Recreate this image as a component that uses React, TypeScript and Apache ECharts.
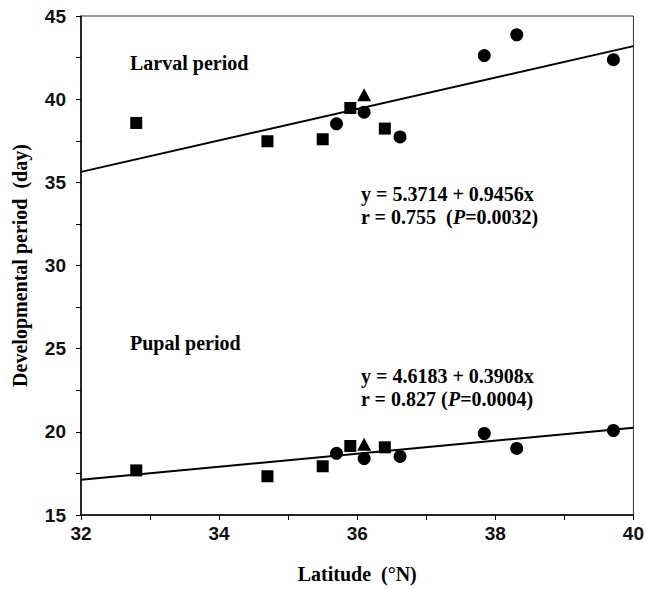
import React, { useEffect, useRef } from "react";
import * as echarts from "echarts";

// Latitudes (°N) of the populations, grouped by marker shape
const squareLat = [32.8, 34.7, 35.5, 35.9, 36.4];
const circleLat = [35.7, 36.1, 36.62, 37.84, 38.31, 39.71];
const triangleLat = [36.1];

// Larval period (day)
const larvalSquareVals = [38.57, 37.47, 37.59, 39.47, 38.23];
const larvalCircleVals = [38.52, 39.22, 37.73, 42.62, 43.87, 42.37];
const larvalTriangleVals = [40.27];

// Pupal period (day)
const pupalSquareVals = [17.68, 17.33, 17.93, 19.15, 19.07];
const pupalCircleVals = [18.71, 18.39, 18.52, 19.9, 19.0, 20.08];
const pupalTriangleVals = [19.26];

// Regression line end points
const fitLat = [32, 40];
const larvalFitVals = [35.63, 43.19];
const pupalFitVals = [17.12, 20.25];

const xTicks = [32, 34, 36, 38, 40];
const yTicks = [15, 20, 25, 30, 35, 40, 45];

const zip = (xs: number[], ys: number[]) => xs.map((x, i) => [x, ys[i]]);

const SERIF = "'Liberation Serif', 'Times New Roman', serif";
const SANS = "'Liberation Sans', Arial, sans-serif";
const INK = "#000";
const FS = 20;

export default function App() {
  const ref = useRef<HTMLDivElement>(null);
  useEffect(() => {
    if (!ref.current) return;
    const chart = echarts.init(ref.current, undefined, { renderer: "svg" });
    const rich = {
      a: { fontFamily: SERIF, fontWeight: "bold", fontSize: FS, color: INK },
      i: { fontFamily: SERIF, fontWeight: "bold", fontStyle: "italic", fontSize: FS, color: INK },
    };
    const txt = (x: number, y: number, text: string) => ({
      type: "text",
      left: x,
      top: y,
      style: {
        text,
        fill: INK,
        fontFamily: SERIF,
        fontWeight: "bold",
        fontSize: FS,
        rich,
      },
    });
    const axisCommon = {
      axisLine: { show: true, lineStyle: { color: INK, width: 1.5 } },
      axisTick: { show: true, inside: false, length: 5, lineStyle: { color: INK, width: 1 } },
      minorTick: { show: true, splitNumber: 2, length: 5, lineStyle: { color: INK, width: 1 } },
      splitLine: { show: false },
      axisLabel: { color: "#111", fontFamily: SANS, fontWeight: "bold", fontSize: 19 },
      nameTextStyle: { color: INK, fontFamily: SERIF, fontWeight: "bold", fontSize: FS },
    };
    const itemStyle = { color: INK, opacity: 1 };
    chart.setOption({
      animation: false,
      backgroundColor: "#fff",
      grid: {
        left: 81,
        right: 9,
        top: 16,
        bottom: 68,
        show: true,
        borderColor: "#333",
        borderWidth: 1,
        containLabel: false,
      },
      xAxis: {
        type: "value",
        min: xTicks[0],
        max: xTicks[xTicks.length - 1],
        interval: 2,
        name: "Latitude  (°N)",
        nameLocation: "middle",
        nameGap: 49,
        ...axisCommon,
        axisLabel: { ...axisCommon.axisLabel, margin: 9 },
      },
      yAxis: {
        type: "value",
        min: yTicks[0],
        max: yTicks[yTicks.length - 1],
        interval: 5,
        name: "Developmental period  (day)",
        nameLocation: "middle",
        nameGap: 51,
        ...axisCommon,
        axisLabel: { ...axisCommon.axisLabel, margin: 15 },
      },
      series: [
        {
          type: "line",
          data: zip(fitLat, larvalFitVals),
          symbol: "none",
          lineStyle: { color: INK, width: 2 },
        },
        {
          type: "line",
          data: zip(fitLat, pupalFitVals),
          symbol: "none",
          lineStyle: { color: INK, width: 2 },
        },
        {
          type: "scatter",
          data: zip(squareLat, larvalSquareVals).concat(zip(squareLat, pupalSquareVals)),
          symbol: "rect",
          symbolSize: 12,
          itemStyle,
        },
        {
          type: "scatter",
          data: zip(circleLat, larvalCircleVals).concat(zip(circleLat, pupalCircleVals)),
          symbol: "circle",
          symbolSize: 13,
          itemStyle,
        },
        {
          type: "scatter",
          data: zip(triangleLat, larvalTriangleVals).concat(zip(triangleLat, pupalTriangleVals)),
          symbol: "triangle",
          symbolSize: [14, 13],
          itemStyle,
        },
      ],
      graphic: [
        txt(130, 53, "Larval period"),
        txt(130, 333, "Pupal period"),
        txt(361, 184, "y = 5.3714 + 0.9456x"),
        txt(361, 207, "{a|r = 0.755  (}{i|P}{a|=0.0032)}"),
        txt(361, 366, "y = 4.6183 + 0.3908x"),
        txt(361, 389, "{a|r = 0.827 (}{i|P}{a|=0.0004)}"),
      ],
    });
    return () => chart.dispose();
  }, []);
  return (
    <div
      ref={ref}
      style={{ position: "fixed", left: 0, top: 0, width: 647, height: 589 }}
    />
  );
}
